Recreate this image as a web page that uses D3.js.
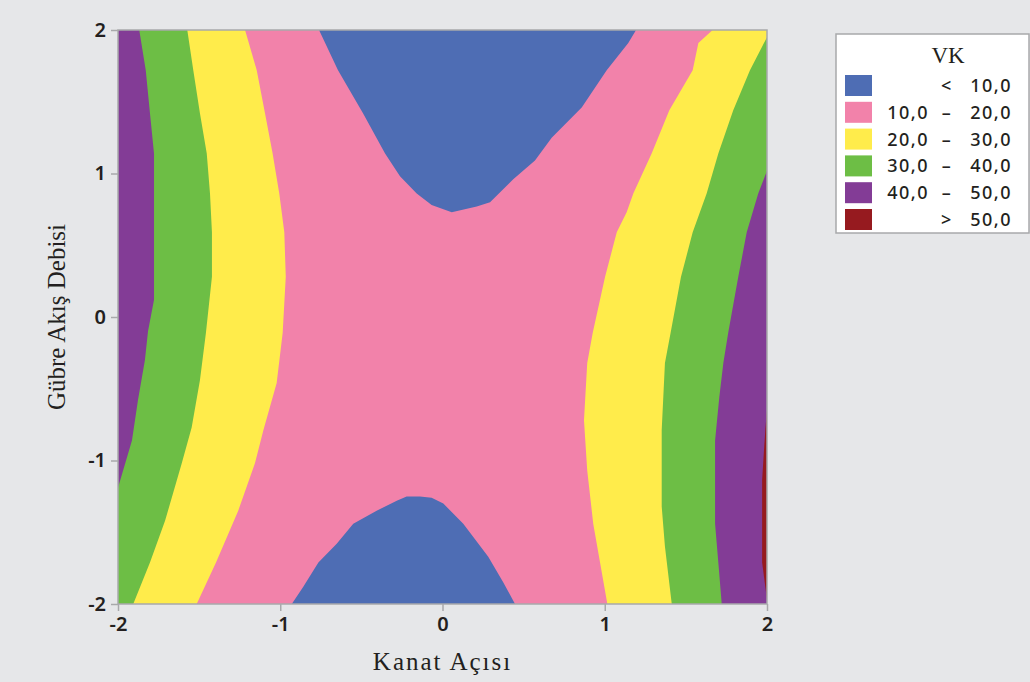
<!DOCTYPE html>
<html>
<head>
<meta charset="utf-8">
<script src="https://cdn.jsdelivr.net/npm/d3@7"></script>
<style>
  body { margin: 0; background: #e6e7e9; }
  svg { display: block; }
  .tick text { font-family: "Noto Sans", "Open Sans", sans-serif; font-size: 20px; font-weight: 600; fill: #231f20; }
  .tick line { stroke: #a8a9ab; stroke-width: 1.5px; }
  .domain { display: none; }
  .title { font-family: "Liberation Serif", "DejaVu Serif", serif; font-size: 25px; fill: #231f20; }
  .leg { font-family: "Noto Sans", "Open Sans", sans-serif; font-size: 18px; font-weight: 500; fill: #231f20; letter-spacing: 1.5px; }
</style>
</head>
<body>
<div id="chart"></div>
<script>
// contour lines of VK, as [Kanat Açısı, Gübre Akış Debisi]
var line20Left = [[-1.217,2],[-1.145,1.72],[-1.094,1.42],[-1.047,1.14],[-1.006,0.86],[-0.975,0.59],[-0.966,0.28],[-0.985,-0.11],[-1.022,-0.46],[-1.104,-0.79],[-1.156,-1.02],[-1.259,-1.35],[-1.396,-1.71],[-1.515,-2]];
var line30Left = [[-1.573,2],[-1.536,1.72],[-1.495,1.42],[-1.453,1.14],[-1.433,0.86],[-1.421,0.59],[-1.421,0.28],[-1.458,-0.11],[-1.495,-0.44],[-1.546,-0.77],[-1.607,-1.02],[-1.710,-1.42],[-1.803,-1.71],[-1.906,-2]];
var line40Left = [[-1.869,2],[-1.829,1.72],[-1.803,1.42],[-1.778,1.14],[-1.778,0.82],[-1.778,0.12],[-1.815,-0.10],[-1.834,-0.30],[-1.877,-0.58],[-1.914,-0.86],[-2,-1.19]];
var line20Right = [[1.665,2],[1.577,1.91],[1.542,1.72],[1.398,1.44],[1.289,1.14],[1.176,0.86],[1.135,0.73],[1.074,0.59],[1.002,0.28],[0.926,-0.11],[0.892,-0.32],[0.872,-0.72],[0.892,-1.07],[0.929,-1.44],[0.971,-1.71],[1.016,-2]];
var line30Right = [[2,1.95],[1.895,1.72],[1.792,1.44],[1.700,1.14],[1.628,0.86],[1.542,0.59],[1.470,0.28],[1.406,-0.11],[1.371,-0.32],[1.351,-0.79],[1.351,-1.32],[1.371,-1.60],[1.413,-2]];
var line40Right = [[2,1.02],[1.946,0.86],[1.875,0.59],[1.823,0.28],[1.761,-0.11],[1.731,-0.32],[1.706,-0.56],[1.680,-0.86],[1.680,-1.44],[1.700,-1.71],[1.721,-2]];
var line50Right = [[2,-0.65],[1.99,-0.78],[1.982,-0.92],[1.97,-1.14],[1.97,-1.71],[1.985,-1.84],[2,-1.97]];
var line10Top = [[-0.761,2],[-0.644,1.72],[-0.490,1.42],[-0.354,1.14],[-0.262,0.98],[-0.159,0.86],[-0.067,0.78],[0.057,0.73],[0.211,0.77],[0.293,0.80],[0.436,0.96],[0.570,1.09],[0.673,1.25],[0.858,1.46],[1.012,1.72],[1.145,1.91],[1.193,2]];
var line10Bottom = [[-0.929,-2],[-0.858,-1.88],[-0.765,-1.71],[-0.652,-1.58],[-0.550,-1.44],[-0.406,-1.35],[-0.282,-1.28],[-0.221,-1.25],[-0.139,-1.25],[-0.067,-1.26],[0.005,-1.30],[0.128,-1.44],[0.282,-1.67],[0.375,-1.85],[0.447,-2]];

var ticks = [-2, -1, 0, 1, 2];
var bandLabels = [["", "<", "10,0"], ["10,0", "\u2013", "20,0"], ["20,0", "\u2013", "30,0"], ["30,0", "\u2013", "40,0"], ["40,0", "\u2013", "50,0"], ["", ">", "50,0"]];
var bandColors = ["#4e6db4", "#f282aa", "#ffec4b", "#6dbe45", "#833c96", "#961a1f"];

var width = 1030, height = 682;
var margin = { top: 30, right: 263, bottom: 78, left: 118 };

var svg = d3.select("#chart").append("svg")
    .attr("width", width)
    .attr("height", height);

var x = d3.scaleLinear().domain([-2, 2]).range([margin.left, width - margin.right]);
var y = d3.scaleLinear().domain([-2, 2]).range([height - margin.bottom, margin.top]);

var line = d3.line()
    .x(function(d) { return x(d[0]); })
    .y(function(d) { return y(d[1]); });

var plot = svg.append("g");

// 10-20 band fills whole area, other bands painted on top
plot.append("rect")
    .attr("x", x(-2)).attr("y", y(2))
    .attr("width", x(2) - x(-2)).attr("height", y(-2) - y(2))
    .style("fill", bandColors[1]);

var regions = [
    { pts: line20Left.concat([[-2, -2], [-2, 2]]), c: 2 },
    { pts: line30Left.concat([[-2, -2], [-2, 2]]), c: 3 },
    { pts: line40Left.concat([[-2, 2]]), c: 4 },
    { pts: line20Right.concat([[2, -2], [2, 2]]), c: 2 },
    { pts: line30Right.concat([[2, -2]]), c: 3 },
    { pts: line40Right.concat([[2, -2]]), c: 4 },
    { pts: line50Right, c: 5 },
    { pts: line10Top, c: 0 },
    { pts: line10Bottom, c: 0 }
];

plot.selectAll("path.band")
    .data(regions)
    .enter()
    .append("path")
    .attr("class", "band")
    .attr("d", function(d) { return line(d.pts) + "Z"; })
    .style("fill", function(d) { return bandColors[d.c]; });

// frame
svg.append("rect")
    .attr("x", x(-2)).attr("y", y(2))
    .attr("width", x(2) - x(-2)).attr("height", y(-2) - y(2))
    .style("fill", "none")
    .style("stroke", "#a8a9ab")
    .style("stroke-width", "1.5px");

var fmt = function(d) { return String(d); };

svg.append("g")
    .attr("transform", "translate(0," + y(-2) + ")")
    .call(d3.axisBottom(x).tickValues(ticks).tickSize(7).tickPadding(6).tickFormat(fmt));

svg.append("g")
    .attr("transform", "translate(" + x(-2) + ",0)")
    .call(d3.axisLeft(y).tickValues(ticks).tickSize(7).tickPadding(5).tickFormat(fmt));

svg.append("text")
    .attr("class", "title")
    .attr("x", (x(-2) + x(2)) / 2)
    .attr("y", 670)
    .attr("text-anchor", "middle")
    .style("letter-spacing", "2px")
    .text("Kanat Açısı");

svg.append("text")
    .attr("class", "title")
    .attr("transform", "translate(65," + (y(0)) + ") rotate(-90)")
    .attr("text-anchor", "middle")
    .text("Gübre Akış Debisi");

// legend
var legend = svg.append("g").attr("transform", "translate(836,34)");

legend.append("rect")
    .attr("width", 193).attr("height", 199)
    .style("fill", "#fff")
    .style("stroke", "#a8a9ab")
    .style("stroke-width", "1.5px");

legend.append("text")
    .attr("class", "title")
    .attr("x", 112).attr("y", 29)
    .attr("text-anchor", "middle")
    .style("font-size", "23px")
    .text("VK");

var rows = legend.selectAll("g.row")
    .data(bandLabels)
    .enter()
    .append("g")
    .attr("class", "row")
    .attr("transform", function(d, i) { return "translate(0," + (41 + i * 26.8) + ")"; });

rows.append("rect")
    .attr("x", 9).attr("width", 27).attr("height", 21)
    .style("fill", function(d, i) { return bandColors[i]; });

rows.append("text").attr("class", "leg")
    .attr("x", 93).attr("y", 17).attr("text-anchor", "end")
    .text(function(d) { return d[0]; });

rows.append("text").attr("class", "leg")
    .attr("x", 111).attr("y", 17).attr("text-anchor", "middle")
    .text(function(d) { return d[1]; });

rows.append("text").attr("class", "leg")
    .attr("x", 176).attr("y", 17).attr("text-anchor", "end")
    .text(function(d) { return d[2]; });
</script>
</body>
</html>
